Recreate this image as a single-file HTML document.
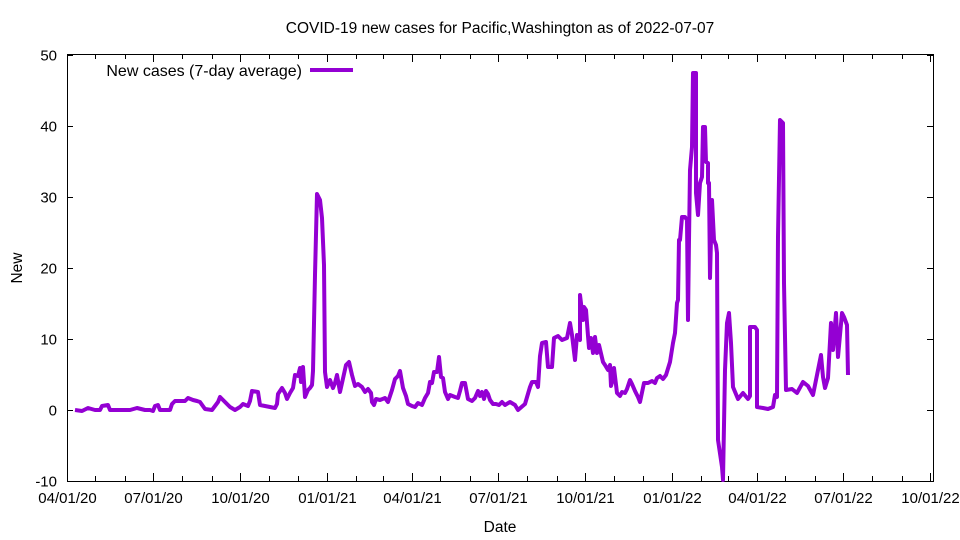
<!DOCTYPE html>
<html><head><meta charset="utf-8"><style>
body{margin:0;background:#fff}
svg{display:block;font-family:"Liberation Sans",sans-serif}
</style></head><body>
<svg id="s" width="960" height="540" xmlns="http://www.w3.org/2000/svg">
<rect width="960" height="540" fill="#fff"/>
<text x="500" y="33" font-size="15.5" text-anchor="middle">COVID-19 new cases for Pacific,Washington as of 2022-07-07</text>
<g id="ax" stroke="#000" stroke-width="1" fill="none"></g>
<g id="lbl" font-size="15" fill="#000"></g>
<text x="500" y="532" font-size="15.5" text-anchor="middle">Date</text>
<text x="22" y="268" font-size="15.5" text-anchor="middle" transform="rotate(-90 22 268)">New</text>
<text x="302" y="76" font-size="16" text-anchor="end">New cases (7-day average)</text>
<line x1="310" y1="70" x2="353" y2="70" stroke="#9400d3" stroke-width="4"/>
<polyline fill="none" stroke="#9400d3" stroke-width="4" stroke-linejoin="round" points="
75,410 82,411 88,408 95,410 100,410 102,406 108,405 110,410 130,410 137,408 145,410 150,410 153,411 155,406 158,405 160,410 170,410 172,404 175,401 185,401 188,398 193,400 197,401 200,402 205,409 212,410 215,406 218,402 220,397 224,401 230,407 235,410 240,407 243,404 248,406 250,401 252,391 258,392 260,405 270,407 275,408 277,404 278,394 282,388 285,393 287,399 290,393 293,388 295,375 298,376 300,368 301,382 303,367 305,397 308,390 310,388 312,385 313,371 315,275 317,194 320,200 322,218 324,265 325,372 327,387 330,380 333,388 335,383 337,375 340,392 346,365 349,362 352,375 355,386 358,384 362,387 365,392 368,389 371,393 372,402 374,405 376,399 380,400 385,398 388,402 392,390 395,379 398,376 400,371 403,388 406,396 408,404 412,406 415,407 418,403 422,405 425,398 428,393 430,382 432,383 434,372 437,372 439,357 441,377 443,378 445,392 448,399 450,395 455,397 458,398 460,391 462,383 465,383 468,399 472,401 475,398 478,391 480,396 482,392 484,399 486,391 488,394 490,400 493,404 496,404 499,405 502,402 505,405 510,402 515,405 518,410 525,404 530,387 532,382 536,382 538,387 540,356 542,343 546,342 548,367 552,367 554,338 558,336 562,340 567,338 570,323 572,335 575,360 577,335 580,340 580,295 583,320 584,307 586,310 588,336 589,348 591,338 593,353 595,337 597,353 599,345 603,362 605,365 608,370 610,365 611,386 614,375 614,368 617,393 620,396 622,392 625,393 627,389 630,380 632,384 635,391 638,397 640,402 644,383 648,383 652,381 655,383 657,378 660,376 663,379 666,375 670,362 673,343 675,333 677,303 678,300 679,240 680,240 682,217 685,217 687,220 688,320 689,240 690,170 692,147 693,73 696,73 696,193 698,215 700,183 702,177 703,127 705,127 706,162 708,163 708,183 709,183 710,278 712,200 714,240 716,245 717,253 718,440 722,467 723,480 725,370 727,323 729,313 731,343 733,387 738,399 743,393 748,399 750,396 750,327 755,327 757,330 757,407 763,408 768,409 773,407 775,395 777,397 778,237 780,120 783,123 784,283 786,390 792,389 797,393 803,382 808,386 813,395 817,375 821,355 823,377 825,388 828,378 831,323 833,350 836,313 838,357 842,313 844,317 847,325 848,375"/>
</svg>
<script>
const ax=document.getElementById('ax'),lb=document.getElementById('lbl');
const L=67,R=933,T=54,B=481;
function ln(a,b,c,d){const e=document.createElementNS('http://www.w3.org/2000/svg','line');e.setAttribute('x1',a);e.setAttribute('y1',b);e.setAttribute('x2',c);e.setAttribute('y2',d);ax.appendChild(e);}
function tx(x,y,s,a){const e=document.createElementNS('http://www.w3.org/2000/svg','text');e.setAttribute('x',x);e.setAttribute('y',y);e.setAttribute('text-anchor',a);e.textContent=s;lb.appendChild(e);}
const r=document.createElementNS('http://www.w3.org/2000/svg','rect');r.setAttribute('x',L+.5);r.setAttribute('y',T+.5);r.setAttribute('width',R-L);r.setAttribute('height',B-T);ax.appendChild(r);
for(let v=-10;v<=50;v+=10){const y=410-v*7.1+.5;ln(L,y,L+6,y);ln(R-6,y,R,y);tx(57,y+5,String(v),'end');}
const t0=Date.UTC(2020,3,1),ppd=863/913;
for(let m=0;m<=30;m++){const d=Date.UTC(2020,3+m,1);const x=Math.round(L+(d-t0)/864e5*ppd)+.5;ln(x,B,x,B-5);ln(x,T,x,T+5);
if(m%3==0){const dt=new Date(d);const mm=String(dt.getUTCMonth()+1).padStart(2,'0');const yy=String(dt.getUTCFullYear()%100);tx(x,503,mm+'/01/'+yy,'middle');ln(x,B,x,B-8);ln(x,T,x,T+8);}}
</script>
</body></html>
